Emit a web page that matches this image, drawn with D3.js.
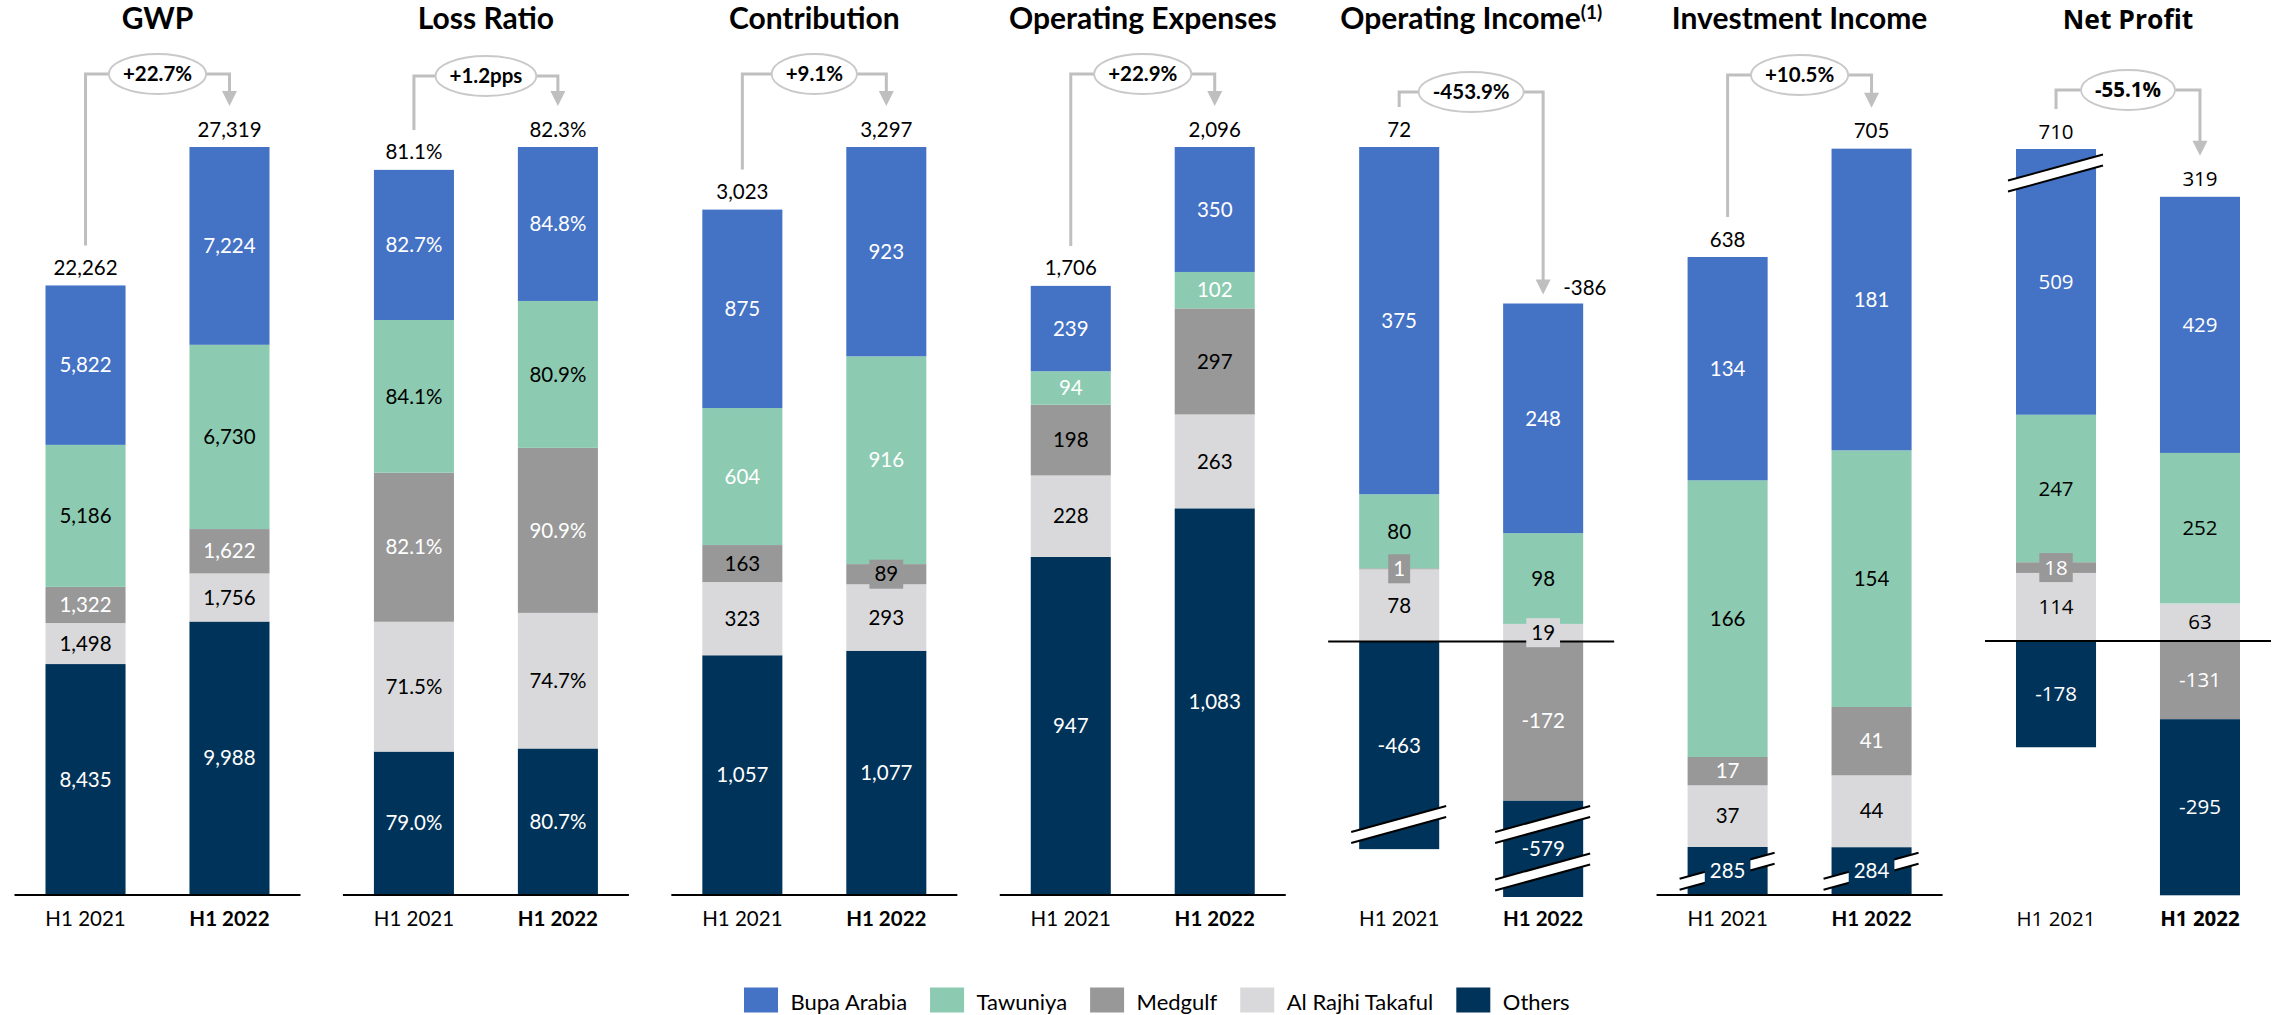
<!DOCTYPE html>
<html>
<head>
<meta charset="utf-8">
<script src="https://cdn.jsdelivr.net/npm/d3@7"></script>
<style>
  body { margin: 0; background: #fff; }
  svg { display: block; }
</style>
</head>
<body>
<svg id="chart"></svg>
<script>
// series order: Bupa Arabia, Tawuniya, Medgulf, Al Rajhi Takaful, Others
const series = ["Bupa Arabia", "Tawuniya", "Medgulf", "Al Rajhi Takaful", "Others"];
const colors = ["#4472C4", "#8CCBB1", "#989898", "#D9D9DB", "#003359"];
const years = ["H1 2021", "H1 2022"];
const titles = ["GWP", "Loss Ratio", "Contribution", "Operating Expenses", "Operating Income", "Investment Income", "Net Profit"];

const gwp2021 = [5822, 5186, 1322, 1498, 8435];
const gwp2022 = [7224, 6730, 1622, 1756, 9988];
const lossRatio2021 = [82.7, 84.1, 82.1, 71.5, 79.0];
const lossRatio2022 = [84.8, 80.9, 90.9, 74.7, 80.7];
const contribution2021 = [875, 604, 163, 323, 1057];
const contribution2022 = [923, 916, 89, 293, 1077];
const opex2021 = [239, 94, 198, 228, 947];
const opex2022 = [350, 102, 297, 263, 1083];
const opIncome2021 = [375, 80, 1, 78, -463];
const opIncome2022 = [248, 98, -172, 19, -579];
const invIncome2021 = [134, 166, 17, 37, 285];
const invIncome2022 = [181, 154, 41, 44, 284];
const netProfit2021 = [509, 247, 18, 114, -178];
const netProfit2022 = [429, 252, -131, 63, -295];

const totals2021 = ["22,262", "81.1%", "3,023", "1,706", "72", "638", "710"];
const totals2022 = ["27,319", "82.3%", "3,297", "2,096", "-386", "705", "319"];
const changes = ["+22.7%", "+1.2pps", "+9.1%", "+22.9%", "-453.9%", "+10.5%", "-55.1%"];

const metrics = [
  [gwp2021, gwp2022],
  [lossRatio2021, lossRatio2022],
  [contribution2021, contribution2022],
  [opex2021, opex2022],
  [opIncome2021, opIncome2022],
  [invIncome2021, invIncome2022],
  [netProfit2021, netProfit2022]
];

const svgWidth = 2280;
const svgHeight = 1015;
const baseY = 895;
const topY = 147;

const locale = d3.formatLocale({ decimal: ".", thousands: ",", grouping: [3], currency: ["", ""], minus: "-" });
const fmtInt = locale.format(",");

// per panel layout: which series get dark text, boxed labels [series, year], scale breaks
const oiZero = 641.5;
const layout = [
  { bracketY: 74, dark: [1, 3] },
  { bracketY: 76, dark: [1, 3], fmt: d => d.toFixed(1) + "%" },
  { bracketY: 74, dark: [2, 3], boxed: [[2, 1]] },
  { bracketY: 74, dark: [2, 3] },
  { bracketY: 92, dark: [1, 3], boxed: [[2, 0], [3, 1]], sideLabel: true,
    domain: [-751, -172, 0, 534],
    range: [897, oiZero + 172 * (oiZero - topY) / 534, oiZero, topY],
    breaks: [[0, -314], [1, -314], [1, -600]], sup: "(1)" },
  { bracketY: 75, dark: [1, 3], boxed: [[4, 0], [4, 1]],
    domain: [0, 285, 705], range: [baseY, 847, topY],
    breaks: [[0, 142], [1, 142]] },
  { bracketY: 90, dark: [1, 3], boxed: [[2, 0]], font: "Open Sans",
    domain: [-426, 0, 744, 888], range: [895.3, 641, 196.8, 149],
    breaks: [[0, 816]] }
];

const svg = d3.select("#chart")
  .attr("width", svgWidth)
  .attr("height", svgHeight);

const panelX = d3.scaleLinear().domain([0, 6]).range([45.5, 2016]);
const yearX = d3.scaleBand().domain(years).range([0, 224]).paddingInner(0.444);
const bw = yearX.bandwidth();

function stackBar(values) {
  const segs = [];
  let pos = 0, neg = 0;
  [4, 3, 2, 1, 0].forEach(k => {
    if (values[k] >= 0) { segs.push({ k, y0: pos, y1: pos + values[k], v: values[k] }); pos += values[k]; }
  });
  [0, 1, 2, 3, 4].forEach(k => {
    if (values[k] < 0) { segs.push({ k, y0: neg, y1: neg + values[k], v: values[k] }); neg += values[k]; }
  });
  return { segs, pos, neg };
}

metrics.forEach((vals, i) => {
  const cfg = layout[i];
  const font = cfg.font || "Lato";
  const fmt = cfg.fmt || fmtInt;
  const g = svg.append("g").attr("transform", "translate(" + panelX(i) + ",0)");
  const stacks = vals.map(stackBar);
  const maxPos = d3.max(stacks, s => s.pos);

  const yScale = d3.scaleLinear()
    .domain(cfg.domain || [0, maxPos])
    .range(cfg.range || [baseY, topY]);

  const cx = j => yearX(years[j]) + bw / 2;
  const mid = (cx(0) + cx(1)) / 2;

  // title
  const title = g.append("text")
    .attr("x", mid)
    .attr("y", 29)
    .attr("text-anchor", "middle")
    .attr("font-family", font)
    .attr("font-weight", "bold")
    .attr("font-size", font === "Lato" ? 30 : 26.5)
    .attr("fill", "#000")
    .text(titles[i]);
  if (cfg.sup) {
    title.append("tspan")
      .attr("font-size", 19)
      .attr("dy", -10)
      .text(cfg.sup);
  }

  // bars
  stacks.forEach((s, j) => {
    g.selectAll(null)
      .data(s.segs)
      .join("rect")
      .attr("x", yearX(years[j]))
      .attr("width", bw)
      .attr("y", d => Math.min(yScale(d.y0), yScale(d.y1)))
      .attr("height", d => Math.abs(yScale(d.y1) - yScale(d.y0)))
      .attr("fill", d => colors[d.k]);
  });

  // break marks
  (cfg.breaks || []).forEach(([j, v]) => {
    const c = cx(j), yc = yScale(v);
    const x0 = c - 48, x1 = c + 47, s = 0.273, h = 5.5;
    const up = x => yc - h - (x - c) * s;
    const lo = x => yc + h - (x - c) * s;
    g.append("polygon")
      .attr("points", [[x0, up(x0)], [x1, up(x1)], [x1, lo(x1)], [x0, lo(x0)]].join(" "))
      .attr("fill", "#fff");
    [up, lo].forEach(f => {
      g.append("line")
        .attr("x1", x0).attr("y1", f(x0))
        .attr("x2", x1).attr("y2", f(x1))
        .attr("stroke", "#000")
        .attr("stroke-width", 2);
    });
  });

  // baseline / zero line
  g.append("line")
    .attr("x1", -31)
    .attr("x2", 224 + 31)
    .attr("y1", yScale(0))
    .attr("y2", yScale(0))
    .attr("stroke", "#000")
    .attr("stroke-width", 2);

  // segment labels
  const boxed = cfg.boxed || [];
  stacks.forEach((s, j) => {
    s.segs.forEach(d => {
      const cy = (yScale(d.y0) + yScale(d.y1)) / 2;
      const t = g.append("text")
        .attr("x", cx(j))
        .attr("y", cy + 7.2)
        .attr("text-anchor", "middle")
        .attr("font-family", font)
        .attr("font-size", 20.5)
        .attr("fill", cfg.dark.includes(d.k) ? "#000" : "#fff")
        .text(fmt(d.v));
      if (boxed.some(b => b[0] === d.k && b[1] === j)) {
        const w = t.node().getComputedTextLength() + 10;
        g.insert("rect", () => t.node())
          .attr("x", cx(j) - w / 2)
          .attr("y", cy - 14.5)
          .attr("width", w)
          .attr("height", 29)
          .attr("fill", colors[d.k]);
      }
    });
  });

  // totals above bars
  const top1 = yScale(stacks[0].pos);
  const top2 = yScale(stacks[1].pos);
  g.append("text")
    .attr("x", cx(0))
    .attr("y", top1 - 10.5)
    .attr("text-anchor", "middle")
    .attr("font-family", font)
    .attr("font-size", 20.5)
    .text(totals2021[i]);
  g.append("text")
    .attr("x", cfg.sideLabel ? cx(1) + 20 : cx(1))
    .attr("y", cfg.sideLabel ? top2 - 8.5 : top2 - 10.5)
    .attr("text-anchor", cfg.sideLabel ? "start" : "middle")
    .attr("font-family", font)
    .attr("font-size", 20.5)
    .text(totals2022[i]);

  // change bracket with ellipse and arrow
  const tip = cfg.sideLabel ? top2 - 9 : top2 - 41;
  const ct = g.append("text")
    .attr("x", mid)
    .attr("y", cfg.bracketY + 7)
    .attr("text-anchor", "middle")
    .attr("font-family", font)
    .attr("font-weight", "bold")
    .attr("font-size", 20.5)
    .text(changes[i]);
  const rx = ct.node().getComputedTextLength() / 2 + 14;
  g.insert("ellipse", () => ct.node())
    .attr("cx", mid)
    .attr("cy", cfg.bracketY)
    .attr("rx", rx)
    .attr("ry", 20)
    .attr("fill", "#fff")
    .attr("stroke", "#c9c9c9")
    .attr("stroke-width", 1.8);
  const path = d3.path();
  path.moveTo(cx(0), top1 - 40);
  path.lineTo(cx(0), cfg.bracketY);
  path.lineTo(mid - rx, cfg.bracketY);
  path.moveTo(mid + rx, cfg.bracketY);
  path.lineTo(cx(1), cfg.bracketY);
  path.lineTo(cx(1), tip - 14);
  g.insert("path", "ellipse")
    .attr("d", path.toString())
    .attr("fill", "none")
    .attr("stroke", "#bfbfbf")
    .attr("stroke-width", 3);
  g.append("polygon")
    .attr("points", [[cx(1) - 7.5, tip - 15], [cx(1) + 7.5, tip - 15], [cx(1), tip]].join(" "))
    .attr("fill", "#bfbfbf");

  // x labels
  years.forEach((yr, j) => {
    g.append("text")
      .attr("x", cx(j))
      .attr("y", 926)
      .attr("text-anchor", "middle")
      .attr("font-family", font)
      .attr("font-size", 20.5)
      .attr("font-weight", j === 1 ? "bold" : "normal")
      .attr("fill", "#000")
      .text(yr);
  });
});

// legend
const legend = svg.append("g");
let lx = 744;
series.forEach((name, k) => {
  legend.append("rect")
    .attr("x", lx)
    .attr("y", 987.5)
    .attr("width", 34)
    .attr("height", 25)
    .attr("fill", colors[k]);
  const t = legend.append("text")
    .attr("x", lx + 46.5)
    .attr("y", 1010)
    .attr("font-family", "Lato")
    .attr("font-size", 22)
    .attr("fill", "#000")
    .text(name);
  lx += 46.5 + t.node().getComputedTextLength() + 23;
});
</script>
</body>
</html>
